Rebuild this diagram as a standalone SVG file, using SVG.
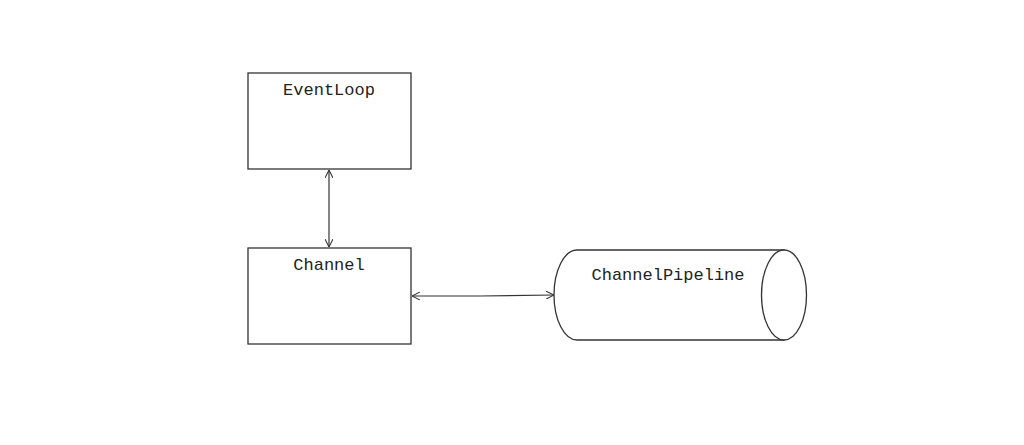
<svg xmlns="http://www.w3.org/2000/svg" width="1024" height="445" viewBox="0 0 1024 445">
<style>
.b{fill:#fff;stroke:#333;stroke-width:1.3}
.t{font-family:"Liberation Mono",monospace;font-size:17px;fill:#222;text-anchor:middle}
.c{fill:none;stroke:#333;stroke-width:1.2;marker-start:url(#a);marker-end:url(#a)}
</style>
<defs><marker id="a" viewBox="0 0 10 10" refX="10" refY="5" markerWidth="8" markerHeight="8" orient="auto-start-reverse" markerUnits="userSpaceOnUse"><path d="M0,0L10,5L0,10" fill="none" stroke="#333" stroke-width="1.3"/></marker></defs>
<rect width="1024" height="445" fill="#fff"/>
<g id="eventloop"><rect class="b" x="248" y="73" width="163" height="96"/><text class="t" x="329" y="95">EventLoop</text></g>
<g id="channel"><rect class="b" x="248" y="248" width="163" height="96"/><text class="t" x="329" y="270">Channel</text></g>
<g id="pipeline"><path class="b" d="M577,250H784V340H577A23,45 0 0 1 577,250Z"/><ellipse class="b" cx="784" cy="295" rx="22.5" ry="45"/><text class="t" x="668" y="280">ChannelPipeline</text></g>
<g id="connectors"><path class="c" d="M329,170V247"/><path class="c" d="M412,296H480L554,295"/></g>
</svg>
